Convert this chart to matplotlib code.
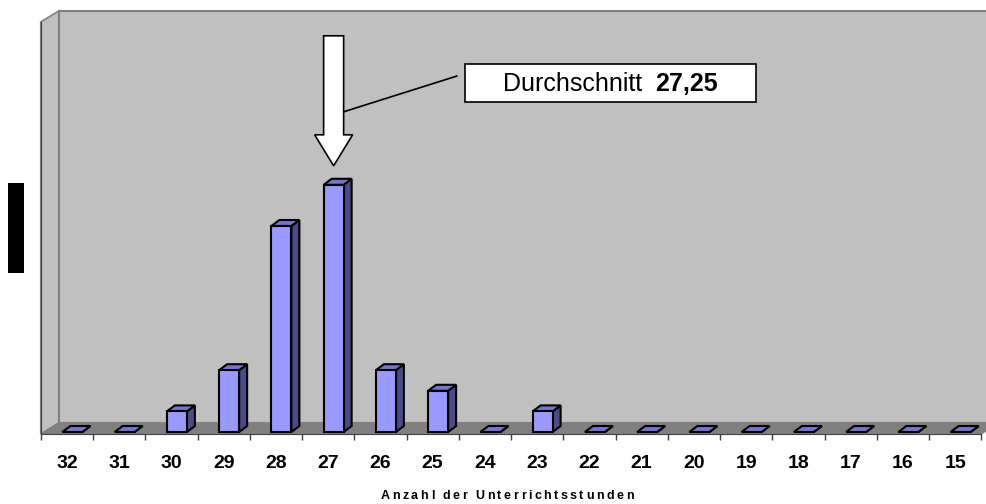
import matplotlib.pyplot as plt
import matplotlib.patches as mpatches
from matplotlib.transforms import Affine2D
from matplotlib.textpath import text_to_path
from matplotlib.font_manager import FontProperties
import numpy as np

plt.rcParams['font.family'] = ['Liberation Sans', 'DejaVu Sans']

## Data: number of teachers per weekly lesson count
stunden = [32, 31, 30, 29, 28, 27, 26, 25, 24, 23, 22, 21, 20, 19, 18, 17, 16, 15]
anzahl = [0, 0, 1, 3, 10, 12, 3, 2, 0, 1, 0, 0, 0, 0, 0, 0, 0, 0]
x_titel = "Anzahl der Unterrichtsstunden"

durchschnitt = np.dot(stunden, anzahl) / np.sum(anzahl)
mittel_text = f"{durchschnitt:.2f}".replace(".", ",")

## Figure and axes (pixel layout)
W, H = 986, 504
fig = plt.figure(figsize=(W / 100, H / 100), dpi=100)
ax_l, ax_b, ax_w, ax_h = 40.75, 70, 940.5, 412
ax = fig.add_axes([ax_l / W, ax_b / H, ax_w / W, ax_h / H])
n = len(stunden)
ymax = 20
ax.set_xlim(-0.5, n - 0.5)
ax.set_ylim(0, ymax)
px_x = ax_w / n
px_y = ax_h / ymax
# top-down pixel coordinates for annotations
tpx = Affine2D().scale(1 / W, -1 / H).translate(0, 1) + fig.transFigure

## 3D walls and floor
dX, dY = 18 / px_x, 11 / px_y
x0, x1 = -0.5, n - 0.5
wall_c, edge_c = "#c0c0c0", "#808080"
back = mpatches.Polygon([(x0 + dX, dY), (x1 + dX, dY), (x1 + dX, ymax + dY), (x0 + dX, ymax + dY)],
                        fc=wall_c, ec=edge_c, lw=1.5, clip_on=False, zorder=1)
left = mpatches.Polygon([(x0, 0), (x0, ymax), (x0 + dX, ymax + dY), (x0 + dX, dY)],
                        fc=wall_c, ec=edge_c, lw=1.2, clip_on=False, zorder=1)
floor = mpatches.Polygon([(x0, 0), (x1, 0), (x1 + dX, dY), (x0 + dX, dY)],
                         fc="#808080", ec="#808080", lw=0.8, clip_on=False, zorder=1)
for p in (back, left, floor):
    ax.add_patch(p)

## 3D columns
bw = 20 / px_x
bx, by = 8 / px_x, 6 / px_y
yb = 2 / px_y
for i, v in enumerate(anzahl):
    fl = i - 4.5 / px_x
    fr = fl + bw
    yt = yb + v
    side = mpatches.Polygon([(fr, yb), (fr + bx, yb + by), (fr + bx, yt + by), (fr, yt)],
                            fc="#4b4b85", ec="black", lw=1.5, clip_on=False, zorder=3)
    top = mpatches.Polygon([(fl, yt), (fr, yt), (fr + bx, yt + by), (fl + bx, yt + by)],
                           fc="#7575cc", ec="black", lw=1.5, clip_on=False, zorder=3)
    ax.add_patch(side)
    ax.add_patch(top)
    if v > 0:
        ax.add_patch(mpatches.Rectangle((fl, yb), bw, v, fc="#9999ff", ec="black",
                                        lw=1.5, clip_on=False, zorder=3))

## Axes styling
for s in ("top", "right"):
    ax.spines[s].set_visible(False)
for s in ("bottom", "left"):
    ax.spines[s].set_color("#404040")
    ax.spines[s].set_zorder(2)
ax.set_yticks([])
ax.set_xticks(range(n))
ax.set_xticklabels([str(s) for s in stunden], fontsize=14, fontweight="bold")
ax.set_xticks(np.arange(-0.5, n, 1), minor=True)
ax.tick_params(axis="x", which="major", length=0, pad=15)
ax.tick_params(axis="x", which="minor", length=4.5, width=1, color="#404040", direction="out")
ax.patch.set_visible(False)

## Average marker: block arrow above the column nearest the mean
k = stunden.index(int(round(durchschnitt)))
cx = k + 5.5 / px_x
tip = yb + anzahl[k] + 19 / px_y
hw, sw = 19 / px_x, 10 / px_x
head_base = tip + 31 / px_y
shaft_top = tip + 130 / px_y
arrow = mpatches.Polygon([(cx, tip), (cx - hw, head_base), (cx - sw, head_base), (cx - sw, shaft_top),
                          (cx + sw, shaft_top), (cx + sw, head_base), (cx + hw, head_base)],
                         fc="white", ec="black", lw=1.2, clip_on=False, zorder=5)
ax.add_patch(arrow)

con = mpatches.ConnectionPatch(xyA=(cx + sw, tip + 54 / px_y), coordsA=ax.transData,
                               xyB=(457, 76), coordsB=tpx, color="black", lw=1.2, zorder=5)
fig.add_artist(con)
fig.add_artist(mpatches.Rectangle((465, 64), 291, 38, transform=tpx, fc="white", ec="black", lw=1.2))
fig.text(503, 91, "Durchschnitt", transform=tpx, fontsize=18, ha="left", va="baseline")
fig.text(655, 91, mittel_text, transform=tpx, fontsize=18, fontweight="bold", ha="left", va="baseline")

## y label (blacked out)
fig.add_artist(mpatches.Rectangle((8, 183), 16, 90, transform=tpx, fc="black", ec="black", lw=0))

## x title with letter spacing
fp = FontProperties(family="Liberation Sans", weight="bold", size=9)
extra = 2.5
widths = [text_to_path.get_text_width_height_descent(x_titel[:j], fp, ismath=False)[0] * 100 / 72
          for j in range(len(x_titel) + 1)]
total = widths[-1] + extra * (len(x_titel) - 1)
start = 507 - total / 2
for j, ch in enumerate(x_titel):
    fig.text(start + widths[j] + extra * j, 499, ch, transform=tpx, fontproperties=fp,
             ha="left", va="baseline")

fig.savefig("out.png", dpi=100)
